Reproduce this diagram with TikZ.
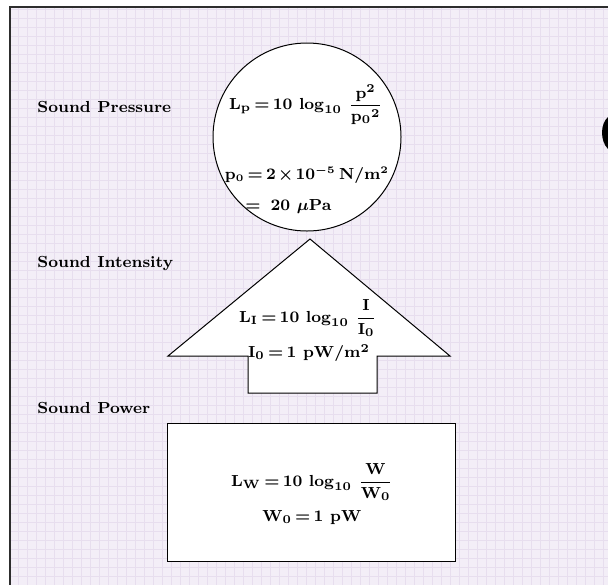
\documentclass[tikz,border=0pt]{standalone}
\usepackage{amsmath,amssymb}
\usepackage{xcolor}
\usepackage{tikz}
\usetikzlibrary{positioning}
\definecolor{paperlilac}{RGB}{243,238,247}
\definecolor{gridlilac}{RGB}{231,222,238}
\definecolor{framegray}{RGB}{45,45,45}
\medmuskip=2mu plus 1mu
\thickmuskip=3mu plus 1mu
\begin{document}
\begin{tikzpicture}[
    x=0.5pt, y=-0.5pt,
    lbl/.style={anchor=west, font=\fontsize{8}{10}\selectfont\bfseries, inner sep=0pt},
    eqn/.style={font=\fontsize{8.5}{10}\selectfont\bfseries\boldmath, inner sep=0pt},
    shapebox/.style={draw=black, fill=white, line width=0.5pt},
  ]
  \useasboundingbox (0,0) rectangle (608,584);
  \clip (0,0) rectangle (608,584);
  \fill[white] (0,0) rectangle (608,584);
  \fill[paperlilac] (10,7) rectangle (620,600);
  \draw[gridlilac, line width=0.35pt, step=4.5pt] (10,7) grid (620,600);
  \draw[framegray, line width=0.8pt] (10,600) -- (10,7) -- (620,7);
  \fill[black] (608,117) .. controls (600,124) and (600,141) .. (608,149) -- cycle;
  % sound pressure
  \node[shapebox, circle, minimum size=94pt, inner sep=0pt] (press) at (307,137) {};
  \node[lbl] (presslbl) at (37,107) {Sound Pressure};
  \node[eqn] (lp) at (306,105) {$\mathbf{L_p = 10\,\log_{10}\,\dfrac{p^2}{{p_0}^2}}$};
  \node[eqn, font=\fontsize{7.6}{9}\selectfont\bfseries\boldmath] (pref) at (307,175) {$\mathbf{p_0 = 2 \times 10^{-5}\,N/m^2}$};
  \node[eqn, anchor=west] (pmu) at (245,207) {$\mathbf{=\ 20\ \mu Pa}$};
  % sound intensity
  \coordinate (tip) at (310,239);
  \coordinate (wl) at (168,356);
  \coordinate (wr) at (450,356);
  \draw[shapebox] (tip) -- (wr) -- (377,356) -- (377,393) -- (248,393) -- (248,356) -- (wl) -- cycle;
  \node[lbl] (intlbl) at (37,263) {Sound Intensity};
  \node[eqn] (li) at (308,318) {$\mathbf{L_I = 10\,\log_{10}\,\dfrac{I}{I_0}}$};
  \node[eqn] (iref) at (309,353) {$\mathbf{I_0 = 1\ pW/m^2}$};
  % sound power
  \node[shapebox, minimum width=144pt, minimum height=69pt, inner sep=0pt] (power) at (311,492) {};
  \node[lbl] (powlbl) at (37,408) {Sound Power};
  \node[eqn] (lw) at (312,482) {$\mathbf{L_W = 10\,\log_{10}\,\dfrac{W}{W_0}}$};
  \node[eqn] (wref) at (312,518) {$\mathbf{W_0 = 1\ pW}$};
\end{tikzpicture}
\end{document}
